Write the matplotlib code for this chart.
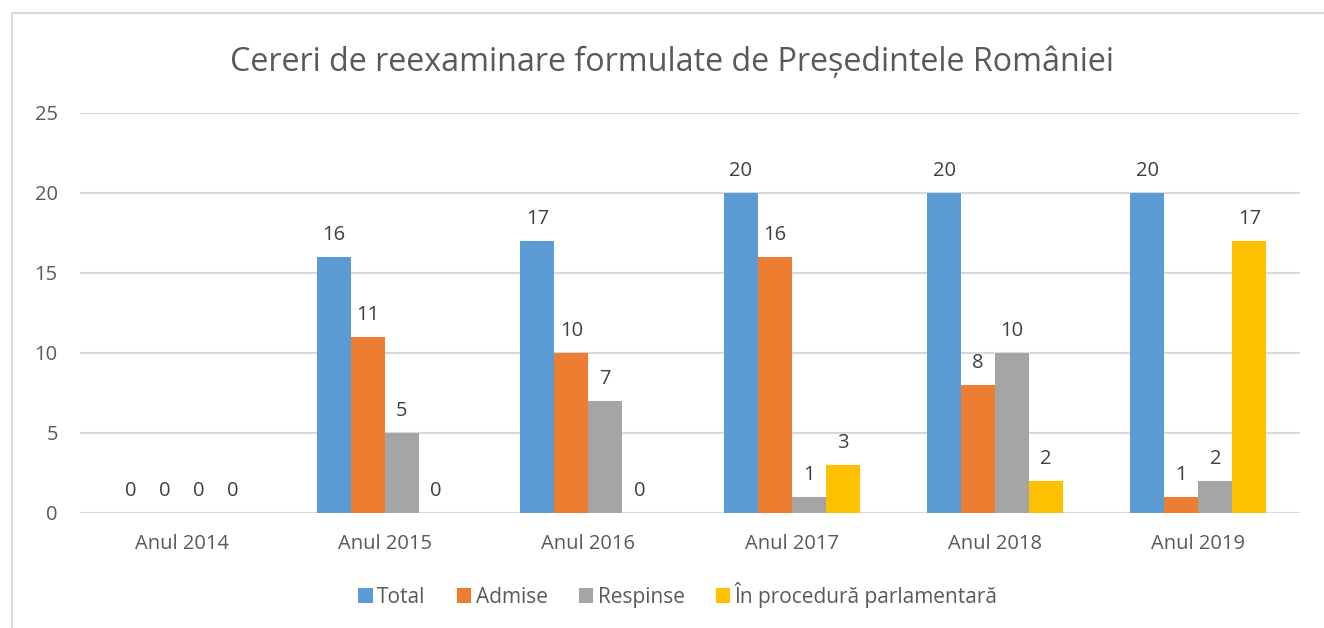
import numpy as np
import matplotlib.pyplot as plt
from matplotlib.patches import Rectangle

categorii = ['Anul 2014', 'Anul 2015', 'Anul 2016', 'Anul 2017', 'Anul 2018', 'Anul 2019']
serii = ['Total', 'Admise', 'Respinse', 'În procedură parlamentară']
total = [0, 16, 17, 20, 20, 20]
admise = [0, 11, 10, 16, 8, 1]
respinse = [0, 5, 7, 1, 10, 2]
procedura = [0, 0, 0, 3, 2, 17]
culori = ['#5B9BD5', '#ED7D31', '#A5A5A5', '#FFC000']

plt.rcParams['font.family'] = ['Open Sans', 'DejaVu Sans']

fig = plt.figure(figsize=(13.24, 6.28), dpi=100)
ax = fig.add_axes([80 / 1324, 115 / 628, 1220 / 1324, 400 / 628])

# chenarul graficului
fig.patches.append(Rectangle((12 / 1324, -0.05), 1.2, 1 - 13 / 628 + 0.05,
                             transform=fig.transFigure, fill=False,
                             edgecolor='#D9D9D9', linewidth=1.5))

x = np.arange(len(categorii))
latime = 0.167
valori = [total, admise, respinse, procedura]
for i, (nume, v) in enumerate(zip(serii, valori)):
    poz = x + (i - 1.5) * latime
    ax.bar(poz, v, latime, color=culori[i], label=nume, zorder=3)
    for xb, val in zip(poz, v):
        ax.annotate(str(val), (xb, val), xytext=(0, 9), textcoords='offset points',
                    ha='center', va='bottom', fontsize=14.5, color='#404040')

ax.set_xlim(-0.5, len(categorii) - 0.5)
ax.set_ylim(0, 25)
ax.set_yticks(range(0, 26, 5))
ax.set_xticks(x)
ax.set_xticklabels(categorii)
ax.grid(axis='y', color='#D9D9D9', linewidth=1.5, zorder=0)
for s in ax.spines.values():
    s.set_visible(False)
ax.tick_params(length=0, labelsize=14.5, labelcolor='#595959')
ax.tick_params(axis='y', pad=16)
ax.tick_params(axis='x', pad=15)

fig.text(672 / 1324, 1 - 62 / 628, 'Cereri de reexaminare formulate de Președintele României',
         ha='center', va='center', fontsize=23.2, color='#595959')

fig.legend(loc='center', bbox_to_anchor=(678 / 1324, 1 - 595 / 628), ncol=4, frameon=False,
           fontsize=15, handlelength=0.7, handleheight=0.7, handletextpad=0.2,
           columnspacing=1.5, labelcolor='#595959')

fig.savefig('out.png', dpi=100)
